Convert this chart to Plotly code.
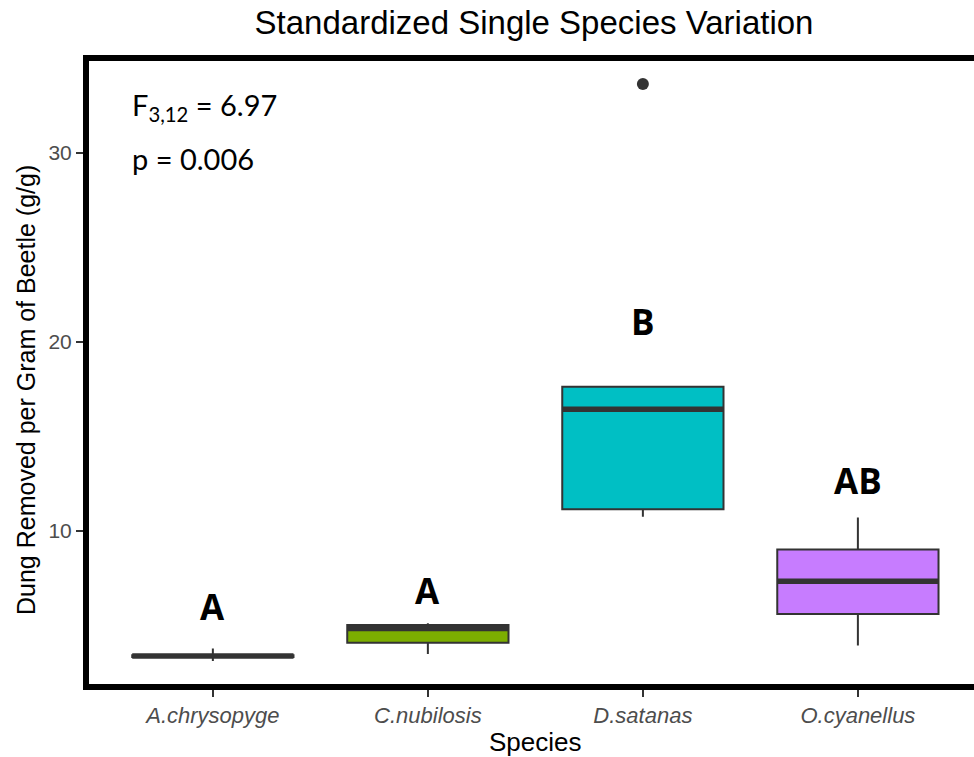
import plotly.graph_objects as go

# ---- data ----
species = ["A.chrysopyge", "C.nubilosis", "D.satanas", "O.cyanellus"]
lower_whisker = [3.12, 3.49, 10.76, 3.95]
q1_vals = [3.34, 4.09, 11.15, 5.61]
median_vals = [3.39, 4.84, 16.44, 7.34]
q3_vals = [3.43, 5.03, 17.63, 9.03]
upper_whisker = [3.79, 5.12, 17.63, 10.72]
outlier_species = ["D.satanas"]
outlier_values = [33.65]
fill_colors = ["#F8766D", "#7CAE00", "#00BFC4", "#C77CFF"]
group_letters = ["A", "A", "B", "AB"]
letter_y = [6.03, 6.88, 21.08, 12.67]
y_ticks = [10, 20, 30]

BOX_W = 0.75
LINE_C = "#333333"
AXIS_FONT = "Liberation Sans, Arial, sans-serif"

fig = go.Figure()

for i, sp in enumerate(species):
    fig.add_trace(go.Box(
        x=[i], q1=[q1_vals[i]], median=[median_vals[i]], q3=[q3_vals[i]],
        lowerfence=[lower_whisker[i]], upperfence=[upper_whisker[i]],
        width=BOX_W, whiskerwidth=0, boxpoints=False,
        fillcolor=fill_colors[i], line=dict(color=LINE_C, width=2),
        name=sp, showlegend=False, hoverinfo="skip",
    ))
    # thick median line (ggplot style)
    fig.add_trace(go.Scatter(
        x=[i - BOX_W / 2, i + BOX_W / 2], y=[median_vals[i], median_vals[i]],
        mode="lines", line=dict(color=LINE_C, width=5.5),
        showlegend=False, hoverinfo="skip",
    ))

# outlier
fig.add_trace(go.Scatter(
    x=[species.index(s) for s in outlier_species], y=outlier_values,
    mode="markers", marker=dict(color=LINE_C, size=12),
    showlegend=False, hoverinfo="skip",
))

annotations = []
for i, (lab, yv) in enumerate(zip(group_letters, letter_y)):
    annotations.append(dict(
        x=i, y=yv, xref="x", yref="y", text="<b>" + lab + "</b>", showarrow=False,
        font=dict(family="Open Sans, sans-serif", size=35, color="black"),
        xanchor="center", yanchor="middle",
    ))

# statistics text
annotations.append(dict(
    x=(130 - 86) / 888, y=(687 - 106) / 629, xref="paper", yref="paper",
    text="F<sub>3,12</sub> = 6.97", showarrow=False, xanchor="left", yanchor="middle",
    font=dict(family="Lato, sans-serif", size=29, color="black"),
))
annotations.append(dict(
    x=(130 - 86) / 888, y=(687 - 158) / 629, xref="paper", yref="paper",
    text="p = 0.006", showarrow=False, xanchor="left", yanchor="middle",
    font=dict(family="Lato, sans-serif", size=29, color="black"),
))
# axis titles
annotations.append(dict(
    x=(535 - 86) / 888, y=(687 - 742) / 629, xref="paper", yref="paper",
    text="Species", showarrow=False, xanchor="center", yanchor="middle",
    font=dict(family=AXIS_FONT, size=26, color="black"),
))
annotations.append(dict(
    x=(26 - 86) / 888, y=(687 - 390) / 629, xref="paper", yref="paper",
    text="Dung Removed per Gram of Beetle (g/g)", showarrow=False, textangle=-90,
    xanchor="center", yanchor="middle",
    font=dict(family=AXIS_FONT, size=25, color="black"),
))

fig.update_layout(
    width=974, height=757,
    margin=dict(l=86, r=0, t=58, b=70),
    paper_bgcolor="white", plot_bgcolor="white",
    title=dict(
        text="Standardized Single Species Variation",
        x=(534 - 86) / 888, xref="paper", xanchor="center",
        y=1 - 22 / 757, yref="container", yanchor="middle",
        font=dict(family=AXIS_FONT, size=33, color="black"),
    ),
    annotations=annotations,
    shapes=[dict(
        type="rect", xref="paper", yref="paper", x0=0, x1=1.02, y0=0, y1=1,
        line=dict(color="black", width=6), layer="above",
    )],
    xaxis=dict(
        range=[-0.59, 3.54], tickmode="array", tickvals=list(range(len(species))),
        ticktext=["<i>" + s + "</i>" for s in species],
        showgrid=False, zeroline=False, showline=False,
        ticks="outside", ticklen=9, tickwidth=1.8, tickcolor=LINE_C,
        tickfont=dict(family=AXIS_FONT, size=22, color="#4D4D4D"),
    ),
    yaxis=dict(
        range=[1.75, 35.03], tickmode="array", tickvals=y_ticks,
        showgrid=False, zeroline=False, showline=False,
        ticks="outside", ticklen=9, tickwidth=1.8, tickcolor=LINE_C,
        tickfont=dict(family=AXIS_FONT, size=21, color="#4D4D4D"),
    ),
)

fig.write_html("out.html")
